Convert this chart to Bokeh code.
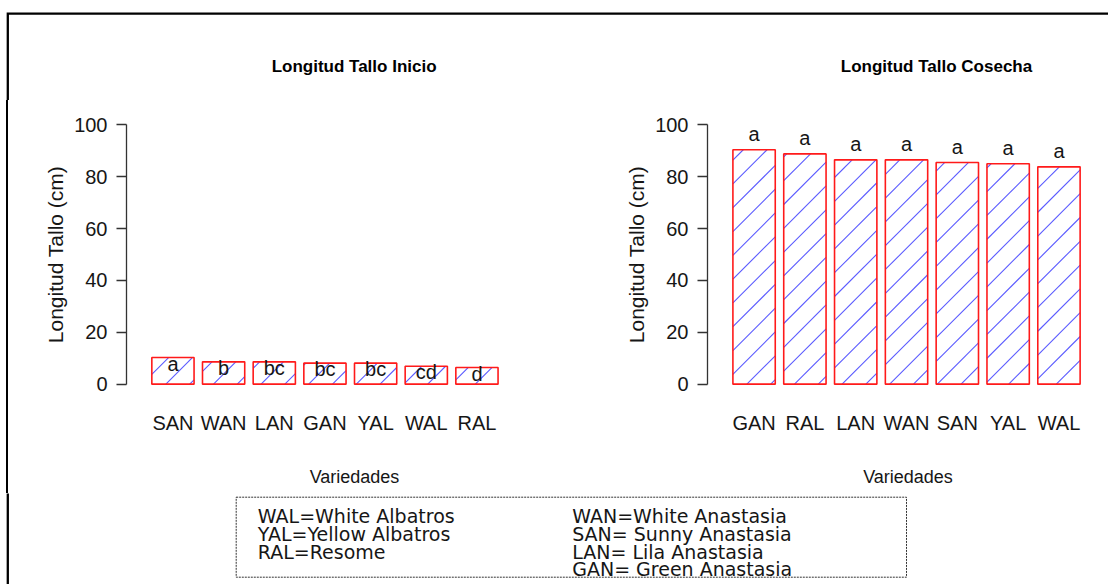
from bokeh.plotting import figure
from bokeh.layouts import column, row
from bokeh.models import Range1d, FixedTicker, ColumnDataSource, Div
from bokeh.core.properties import value
from bokeh.embed import file_html
from bokeh.resources import INLINE

# ---------------- data ----------------
cats_inicio = ["SAN", "WAN", "LAN", "GAN", "YAL", "WAL", "RAL"]
vals_inicio = [10.3, 8.6, 8.6, 8.1, 8.1, 6.9, 6.4]
letters_inicio = ["a", "b", "bc", "bc", "bc", "cd", "d"]

cats_cosecha = ["GAN", "RAL", "LAN", "WAN", "SAN", "YAL", "WAL"]
vals_cosecha = [90.4, 88.8, 86.5, 86.5, 85.5, 85.0, 83.8]
letters_cosecha = ["a", "a", "a", "a", "a", "a", "a"]

y_ticks = [0, 20, 40, 60, 80, 100]

title_inicio = "Longitud Tallo Inicio"
title_cosecha = "Longitud Tallo Cosecha"
y_label = "Longitud Tallo (cm)"
x_label = "Variedades"

legend_left = ["WAL=White Albatros", "YAL=Yellow  Albatros", "RAL=Resome"]
legend_right = ["WAN=White Anastasia", "SAN= Sunny  Anastasia",
                "LAN= Lila  Anastasia", "GAN= Green  Anastasia"]

# ---------------- styles / layout constants ----------------
FONT = "Liberation Sans"
TXT = "#161616"
ROW_TOP = 100          # page y where the panel row starts
ROW_H = 393
B_TOP, B_BOT = 14, 99  # panel borders around the plot area
Y_RANGE = (-4, 104)
X_START = -0.4
BORDER_X, BORDER_Y = 7.3, 13.2
EDGE_W = 8
HATCH_STEP = 23.8      # px between R density lines (vertical)
HATCH_PHASE = 8.2      # px


def blank(width, height, xr, yr):
    f = figure(width=width, height=height, x_range=xr, y_range=yr,
               x_axis_type=None, y_axis_type=None, min_border=0,
               output_backend="svg", toolbar_location=None)
    f.grid.visible = False
    f.outline_line_color = None
    return f


def hatch_lines(x_left, x_right, tops, ppx, ppy):
    """45-degree shading lines (in screen space) clipped to each bar."""
    xs_out, ys_out = [], []
    for xl, xr, h in zip(x_left, x_right, tops):
        a = (xl - X_START) * ppx
        b = (xr - X_START) * ppx
        H = h * ppy
        n = int((-b - HATCH_PHASE) // HATCH_STEP) - 1
        while True:
            k = HATCH_PHASE + n * HATCH_STEP
            if k >= H - a:
                break
            u0 = max(a, -k)
            u1 = min(b, H - k)
            if u1 > u0:
                xs_out.append([u0 / ppx + X_START, u1 / ppx + X_START])
                ys_out.append([(u0 + k) / ppy, (u1 + k) / ppy])
            n += 1
    return xs_out, ys_out


def panel(cats, vals, letters, label_offset, width, b_left, b_right, x_end):
    xs = [round(0.7 + 1.2 * i, 1) for i in range(len(cats))]
    src = ColumnDataSource(dict(x=xs, v=vals, lab=letters,
                                ly=[v + label_offset for v in vals]))
    p = figure(width=width, height=ROW_H, x_range=Range1d(X_START, x_end),
               y_range=Range1d(*Y_RANGE), min_border_left=b_left,
               min_border_right=b_right, min_border_top=B_TOP,
               min_border_bottom=B_BOT,
               output_backend="svg", toolbar_location=None)
    p.grid.visible = False
    p.outline_line_color = None
    # bars: white fill, blue 45-degree shading, red border
    p.vbar(x="x", top="v", bottom=0, width=1.0, source=src,
           fill_color="white", line_color=None)
    ppx = (width - b_left - b_right) / (x_end - X_START)
    ppy = (ROW_H - B_TOP - B_BOT) / (Y_RANGE[1] - Y_RANGE[0])
    hx, hy = hatch_lines([x - 0.5 for x in xs], [x + 0.5 for x in xs], vals, ppx, ppy)
    p.multi_line(xs=hx, ys=hy, line_color="#5a5aff", line_width=1.1)
    p.vbar(x="x", top="v", bottom=0, width=1.0, source=src,
           fill_color=None, line_color="#ff1a1a", line_width=1.6)
    p.text(x="x", y="ly", text="lab", source=src, text_font=value(FONT),
           text_font_size="20px", text_align="center",
           text_baseline="alphabetic", text_color=TXT)
    # y axis
    ya = p.yaxis[0]
    ya.ticker = FixedTicker(ticks=y_ticks)
    ya.bounds = (0, 100)
    ya.axis_line_color = "#333333"
    ya.axis_line_width = 1.3
    ya.major_tick_line_color = "#333333"
    ya.major_tick_line_width = 1.3
    ya.major_tick_in = 0
    ya.major_tick_out = 10
    ya.minor_tick_line_color = None
    ya.major_label_standoff = 9
    ya.major_label_text_font = FONT
    ya.major_label_text_font_size = "20px"
    ya.major_label_text_color = TXT
    ya.axis_label = y_label
    ya.axis_label_text_font = FONT
    ya.axis_label_text_font_style = "normal"
    ya.axis_label_text_font_size = "21px"
    ya.axis_label_text_color = TXT
    ya.axis_label_standoff = 4
    # x axis: category names under the bars
    xa = p.xaxis[0]
    xa.ticker = FixedTicker(ticks=xs)
    xa.major_label_overrides = {x: c for x, c in zip(xs, cats)}
    xa.axis_line_color = None
    xa.major_tick_line_color = None
    xa.minor_tick_line_color = None
    xa.major_tick_in = 0
    xa.major_tick_out = 0
    xa.major_label_standoff = 17
    xa.major_label_text_font = FONT
    xa.major_label_text_font_size = "20px"
    xa.major_label_text_color = TXT
    xa.axis_label = x_label
    xa.axis_label_text_font = FONT
    xa.axis_label_text_font_style = "normal"
    xa.axis_label_text_font_size = "18px"
    xa.axis_label_text_color = TXT
    xa.axis_label_standoff = 30
    return p


# ---------------- top strip: frame border + titles ----------------
top = blank(1108, ROW_TOP, Range1d(0, 1108), Range1d(ROW_TOP, 0))
top.line(x=[BORDER_X, BORDER_X, 1120], y=[ROW_TOP + 10, BORDER_Y, BORDER_Y],
         line_color="black", line_width=2.3, line_join="miter")
top.text(x=[353.6, 936.0], y=[65.7, 65.7], text=[title_inicio, title_cosecha],
         text_font=value(FONT), text_font_style="bold", text_font_size="17px",
         text_align="center", text_baseline="alphabetic", text_color="black")

# ---------------- panels ----------------
edge = Div(width=EDGE_W, height=ROW_H, margin=0,
           styles={"border-right": "2.3px solid black", "box-sizing": "border-box",
                   "padding": "0px"})
L_W, L_BL, L_BR = 590 - EDGE_W, 126 - EDGE_W, 8
R_W, R_BL, R_BR = 518, 117, 0
left = panel(cats_inicio, vals_inicio, letters_inicio, -2.4, L_W, L_BL, L_BR, 10.4)
right = panel(cats_cosecha, vals_cosecha, letters_cosecha, 6.0, R_W, R_BL, R_BR, 9.07)

# ---------------- bottom: legend box ----------------
BOT_TOP = ROW_TOP + ROW_H
leg = blank(1108, 584 - BOT_TOP, Range1d(0, 1108), Range1d(584, BOT_TOP))
leg.line(x=[BORDER_X, BORDER_X], y=[BOT_TOP - 10, 600], line_color="black", line_width=2.3)
leg.quad(left=235.7, right=906, top=496.7, bottom=576.7, fill_color=None,
         line_color="#333333", line_width=1, line_dash="2 1")
leg.text(x=[257.3] * len(legend_left), y=[515, 533.3, 551], text=legend_left,
         text_font=value("DejaVu Sans"), text_font_size="19px",
         text_align="left", text_baseline="alphabetic", text_color=TXT)
leg.text(x=[571.7] * len(legend_right), y=[515, 533.3, 551, 568.6], text=legend_right,
         text_font=value("DejaVu Sans"), text_font_size="19px",
         text_align="left", text_baseline="alphabetic", text_color=TXT)

layout = column(top, row(edge, left, right, spacing=0), leg, spacing=0)

with open("out.html", "w") as fh:
    fh.write(file_html(layout, INLINE))
